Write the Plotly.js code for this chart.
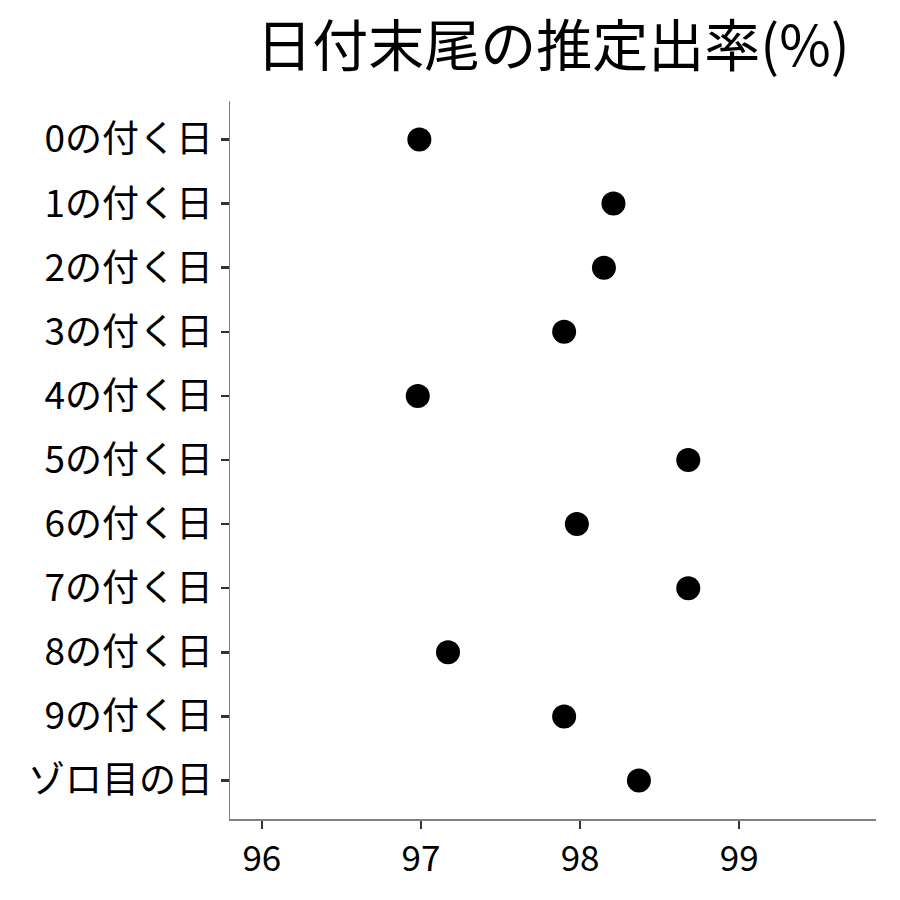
<!DOCTYPE html>
<html>
<head>
<meta charset="utf-8">
<script src="https://cdn.plot.ly/plotly-3.0.1.min.js"></script>
<style>html,body{margin:0;padding:0;background:#fff;}#chart{width:900px;height:900px;}</style>
</head>
<body>
<div id="chart"></div>
<script>
const categories = ["0の付く日","1の付く日","2の付く日","3の付く日","4の付く日","5の付く日","6の付く日","7の付く日","8の付く日","9の付く日","ゾロ目の日"];
const rates = [96.99, 98.21, 98.15, 97.90, 96.98, 98.68, 97.98, 98.68, 97.17, 97.90, 98.37];
const xTicks = [96, 97, 98, 99];
const titleText = "日付末尾の推定出率(%)";

const font = "'Noto Sans CJK JP', 'Noto Sans', sans-serif";

const trace = {
  type: 'scatter',
  mode: 'markers',
  x: rates,
  y: categories,
  marker: {color: '#000', size: 24, line: {width: 0}},
  hoverinfo: 'x+y'
};

const layout = {
  width: 900, height: 900,
  paper_bgcolor: '#fff', plot_bgcolor: '#fff',
  margin: {l: 230, r: 24, t: 101, b: 81},
  showlegend: false,
  title: {
    text: titleText,
    font: {family: font, size: 56, color: '#000'},
    x: 0.5, xref: 'paper', xanchor: 'center',
    y: 1 - 46/900, yref: 'container', yanchor: 'middle'
  },
  xaxis: {
    range: [95.8, 99.86],
    tickvals: xTicks,
    ticktext: xTicks.map(String),
    showgrid: false, zeroline: false,
    showline: true, linecolor: '#808080', linewidth: 1.5,
    ticks: 'outside', ticklen: 8, tickwidth: 2.5, tickcolor: '#333',
    tickfont: {family: font, size: 35, color: '#000'},
    fixedrange: true
  },
  yaxis: {
    type: 'category',
    categoryorder: 'array', categoryarray: categories,
    range: [10.6, -0.6],
    showgrid: false, zeroline: false,
    showline: true, linecolor: '#808080', linewidth: 1.5,
    ticks: 'outside', ticklen: 8, tickwidth: 2.5, tickcolor: '#333',
    tickfont: {family: font, size: 37, color: '#000'},
    fixedrange: true
  }
};

Plotly.newPlot('chart', [trace], layout, {displayModeBar: false, staticPlot: true});
</script>
</body>
</html>
